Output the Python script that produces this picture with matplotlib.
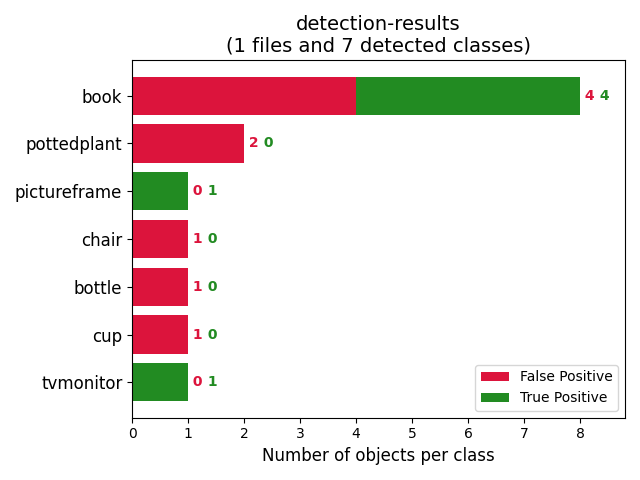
import matplotlib
matplotlib.use("Agg")
import matplotlib.pyplot as plt

classes = ["tvmonitor", "cup", "bottle", "chair", "pictureframe", "pottedplant", "book"]
fp = [0, 1, 1, 1, 0, 2, 4]
tp = [1, 0, 0, 0, 1, 0, 4]

fig, ax = plt.subplots(figsize=(6.4, 4.8), dpi=100)
y = range(len(classes))
ax.barh(y, fp, align="center", color="crimson", label="False Positive")
ax.barh(y, tp, align="center", color="forestgreen", label="True Positive", left=fp)
ax.legend(loc="lower right")

for i in y:
    total = fp[i] + tp[i]
    t = ax.text(total, i, " " + str(fp[i]), color="crimson", va="center", fontweight="bold")
    ax.annotate(" " + str(tp[i]), xy=(1, 0.5), xycoords=t, va="center",
                color="forestgreen", fontweight="bold")

ax.set_yticks(list(y))
ax.set_yticklabels(classes, fontsize=12)
ax.set_xlim(0, 8.8)
ax.set_title("detection-results\n(1 files and 7 detected classes)", fontsize=14)
ax.set_xlabel("Number of objects per class", fontsize=12)
plt.tight_layout()
plt.savefig("out.png")
